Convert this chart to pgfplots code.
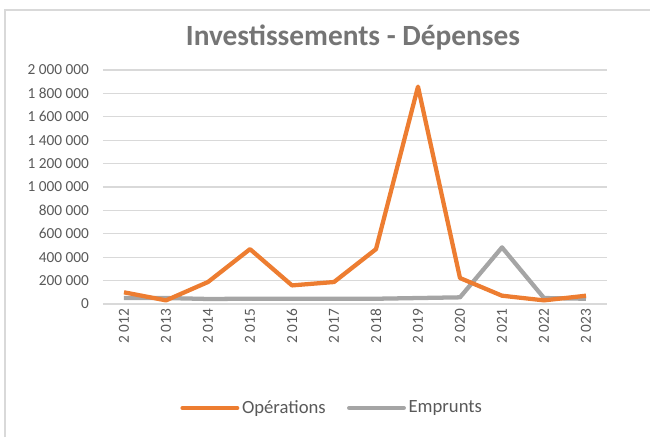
\documentclass[border=0pt]{standalone}
\usepackage{fontspec}
\setmainfont{Carlito}
\usepackage{pgfplots}
\pgfplotsset{compat=1.18}
\definecolor{ops}{HTML}{ED7D31}
\definecolor{emp}{HTML}{A5A5A5}
\definecolor{gridc}{HTML}{D9D9D9}
\definecolor{txt}{HTML}{595959}
\definecolor{ttl}{HTML}{757575}
\begin{document}
\begin{tikzpicture}
\path[use as bounding box] (-77.25pt,-99.75pt) rectangle (410.25pt,228pt);
\draw[gridc, line width=1.5pt] (-73.5pt,-99.75pt) -- (-73.5pt,220.5pt) -- (410.25pt,220.5pt);
\node[font=\fontsize{22}{26}\selectfont\bfseries, text=ttl] at (187.5pt,200.25pt) {Investissements - Dépenses};
\begin{axis}[
  at={(0pt,0pt)}, anchor=south west,
  scale only axis, width=378pt, height=175.5pt,
  xmin=-0.5, xmax=11.5, ymin=0, ymax=2000000,
  axis line style={draw=none},
  scaled y ticks=false,
  xtick={0,...,11},
  xticklabels={2~012,2~013,2~014,2~015,2~016,2~017,2~018,2~019,2~020,2~021,2~022,2~023},
  ytick={0,200000,...,2000000},
  yticklabels={0,200~000,400~000,600~000,800~000,1~000~000,1~200~000,1~400~000,1~600~000,1~800~000,2~000~000},
  major tick length=0pt,
  xmajorgrids=false, ymajorgrids=true,
  y grid style={gridc, line width=0.9pt},
  tick label style={font=\fontsize{11.5}{13}\selectfont, text=txt},
  xticklabel style={rotate=90, anchor=east},
  yticklabel style={anchor=east, xshift=-7pt},
  legend style={at={(0.4554,-0.4444)}, anchor=center, draw=none, fill=none,
    legend columns=2, font=\fontsize{14}{16}\selectfont, text=txt,
    inner sep=0pt,
    /tikz/every odd column/.append style={column sep=0pt},
    /tikz/every even column/.append style={column sep=14pt}},
  legend image code/.code={\draw[#1, line cap=round] (0pt,0pt) -- (41pt,0pt);},
  legend cell align=left,
]
\addplot[emp, line width=3.2pt, line join=round, forget plot] coordinates {
(0,51000) (1,51000) (2,43000) (3,45000) (4,45000) (5,45000) (6,45000) (7,51000) (8,57000) (9,484000) (10,51000) (11,45000)};
\addplot[ops, line width=3.2pt, line join=round] coordinates {
(0,100000) (1,31000) (2,188000) (3,469000) (4,159000) (5,188000) (6,469000) (7,1858000) (8,222000) (9,71000) (10,31000) (11,71000)};
\addlegendentry{Opérations}
\addlegendimage{emp, line width=3.2pt}
\addlegendentry{Emprunts}
\end{axis}
\end{tikzpicture}
\end{document}
